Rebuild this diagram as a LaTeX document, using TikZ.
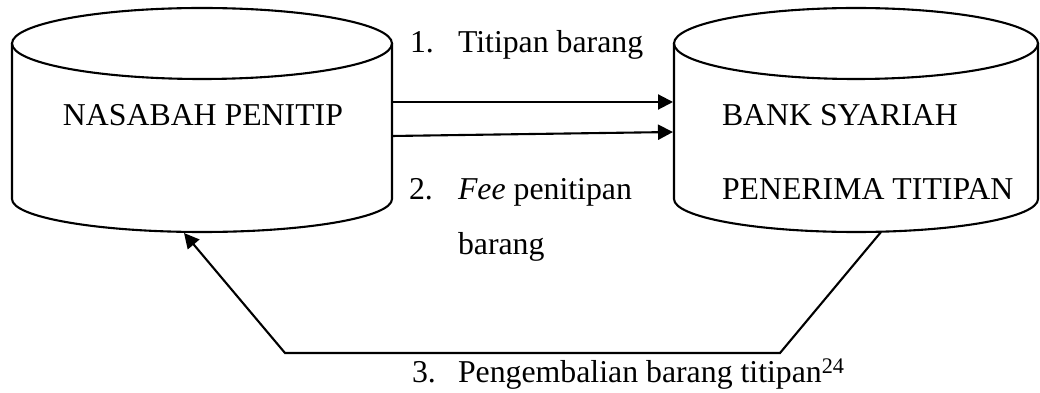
\documentclass[tikz,border=0pt]{standalone}
\usepackage{fontspec}
\setmainfont{Liberation Serif}
\usetikzlibrary{arrows.meta}
\begin{document}
\begin{tikzpicture}[x=1pt,y=1pt,
  line width=2.1pt,
  body/.style={inner sep=0pt,outer sep=0pt,draw=none},
  txt/.style={inner sep=0pt,outer sep=0pt,font=\fontsize{31.8}{38}\selectfont},
  arr/.style={-{Triangle[length=15pt,width=15pt]}},
  line/.style={line join=miter}
]
\useasboundingbox (0,0) rectangle (1040,393);
% cylinder bodies
\node[body,minimum width=380pt,minimum height=155.5pt] (nas) at (202,271.75) {};
\node[body,minimum width=364pt,minimum height=155.5pt] (bank) at (856,271.75) {};
% left cylinder
\draw (nas.north west) -- (nas.south west)
  arc[start angle=180,end angle=360,x radius=190pt,y radius=33pt] -- (nas.north east);
\draw (nas.north) ellipse[x radius=190pt,y radius=35.5pt];
% right cylinder
\draw (bank.north west) -- (bank.south west)
  arc[start angle=180,end angle=360,x radius=182pt,y radius=33pt] -- (bank.north east);
\draw (bank.north) ellipse[x radius=182pt,y radius=35.5pt];
% texts in cylinders
\node[txt,anchor=base] (nastxt) at (203,267) {NASABAH PENITIP};
\node[txt,anchor=base west] (banktxt1) at (722,267) {BANK SYARIAH};
\node[txt,anchor=base west] (banktxt2) at (722,193) {PENERIMA TITIPAN};
% labels
\node[txt,anchor=base west] (n1) at (410,340) {1.};
\node[txt,anchor=base west] (l1) at (458,340) {Titipan barang};
\node[txt,anchor=base west] (n2) at (409,193) {2.};
\node[txt,anchor=base west] (l2) at (458,193) {\textit{Fee} penitipan};
\node[txt,anchor=base west] (l2b) at (458,138) {barang};
\node[txt,anchor=base west] (n3) at (412,10) {3.};
\node[txt,anchor=base west] (l3) at (458,10) {Pengembalian barang titipan\textsuperscript{24}};
% arrows
\draw[arr] ([yshift=19.25pt]nas.east) -- ([yshift=19.25pt,xshift=-1pt]bank.west);
\draw[arr] ([yshift=-14.75pt]nas.east) -- ([yshift=-10.75pt,xshift=-1pt]bank.west);
\coordinate (bankbot) at (881,161);
\coordinate (c1) at (780,40);
\coordinate (c2) at (285,40);
\coordinate (nasbot) at (184,160);
\draw[arr,line] (bankbot) -- (c1) -- (c2) -- (nasbot);
\end{tikzpicture}
\end{document}
